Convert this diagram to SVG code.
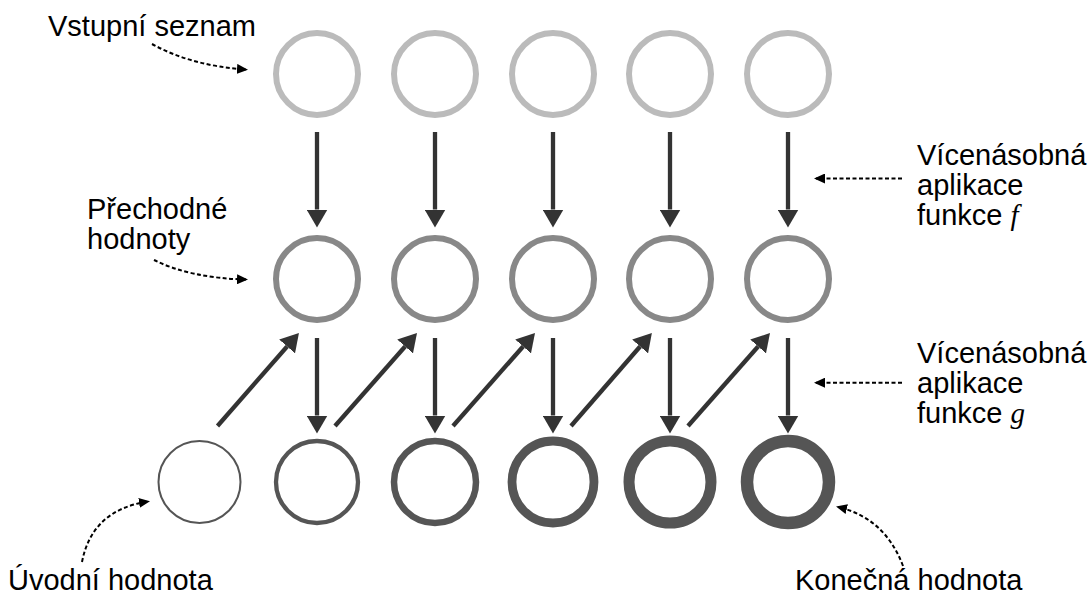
<svg xmlns="http://www.w3.org/2000/svg" width="1088" height="597" viewBox="0 0 1088 597">
  <style>
    .lbl { font-family: "Liberation Sans", Arial, Helvetica, sans-serif; font-size: 29px; fill: #000; }
    .var { font-family: "Liberation Serif", "Times New Roman", serif; font-style: italic; }
    .top { fill: none; stroke: #bbbbbb; stroke-width: 6; }
    .mid { fill: none; stroke: #888888; stroke-width: 6; }
    .bot { fill: none; stroke: #555555; }
    .flow { fill: none; stroke: #333333; stroke-width: 4.3; marker-end: url(#head); }
    .note { fill: none; stroke: #000; stroke-width: 2; stroke-dasharray: 4 2.5; marker-end: url(#small); }
  </style>
  <defs>
    <marker id="head" markerUnits="userSpaceOnUse" markerWidth="19" markerHeight="21" refX="0" refY="10.5" orient="auto">
      <path d="M0,0 L18,10.5 L0,21 z" fill="#333333"/>
    </marker>
    <marker id="small" markerUnits="userSpaceOnUse" markerWidth="11" markerHeight="10" refX="9" refY="5" orient="auto">
      <path d="M0,0 L11,5 L0,10 z" fill="#000"/>
    </marker>
  </defs>

  <!-- input list -->
  <g id="input">
    <circle class="top" cx="317" cy="74" r="41"/>
    <circle class="top" cx="435" cy="74" r="41"/>
    <circle class="top" cx="553" cy="74" r="41"/>
    <circle class="top" cx="670" cy="74" r="41"/>
    <circle class="top" cx="788" cy="74" r="41"/>
  </g>

  <!-- intermediate values -->
  <g id="intermediate">
    <circle class="mid" cx="317" cy="279" r="41"/>
    <circle class="mid" cx="435" cy="279" r="41"/>
    <circle class="mid" cx="553" cy="279" r="41"/>
    <circle class="mid" cx="670" cy="279" r="41"/>
    <circle class="mid" cx="788" cy="279" r="41"/>
  </g>

  <!-- accumulator, growing stroke -->
  <g id="accumulator">
    <circle class="bot" cx="199.5" cy="482" r="41" stroke-width="2"/>
    <circle class="bot" cx="317" cy="482" r="41" stroke-width="4.3"/>
    <circle class="bot" cx="435" cy="482" r="41" stroke-width="6.5"/>
    <circle class="bot" cx="553" cy="482" r="41" stroke-width="8.8"/>
    <circle class="bot" cx="670" cy="482" r="41" stroke-width="11"/>
    <circle class="bot" cx="788" cy="482" r="41" stroke-width="12.5"/>
  </g>

  <g id="connectors">
    <!-- f: input to intermediate -->
    <line class="flow" x1="317" y1="132" x2="317" y2="209.5"/>
    <line class="flow" x1="435" y1="132" x2="435" y2="209.5"/>
    <line class="flow" x1="553" y1="132" x2="553" y2="209.5"/>
    <line class="flow" x1="670" y1="132" x2="670" y2="209.5"/>
    <line class="flow" x1="788" y1="132" x2="788" y2="209.5"/>
    <!-- g: intermediate down to accumulator -->
    <line class="flow" x1="317" y1="338" x2="317" y2="415.5"/>
    <line class="flow" x1="435" y1="338" x2="435" y2="415.5"/>
    <line class="flow" x1="553" y1="338" x2="553" y2="415.5"/>
    <line class="flow" x1="670" y1="338" x2="670" y2="415.5"/>
    <line class="flow" x1="788" y1="338" x2="788" y2="415.5"/>
    <!-- accumulator up to next intermediate -->
    <line class="flow" x1="217.5" y1="426" x2="287.1" y2="346.5"/>
    <line class="flow" x1="335" y1="426" x2="405.1" y2="346.5"/>
    <line class="flow" x1="453" y1="426" x2="523.1" y2="346.5"/>
    <line class="flow" x1="571" y1="426" x2="640.1" y2="346.5"/>
    <line class="flow" x1="688" y1="426" x2="758.1" y2="346.5"/>

    <!-- annotation pointers -->
    <path class="note" d="M152,44 Q192,66 246,69.5"/>
    <path class="note" d="M154,260 Q190,278 246,279.5"/>
    <path class="note" d="M82,562 Q92,510 148,501.5"/>
    <path class="note" d="M903,566 Q885,518 838,507"/>
    <line class="note" x1="902" y1="178.5" x2="816" y2="178.5"/>
    <line class="note" x1="902" y1="382.7" x2="816" y2="382.7"/>
  </g>

  <g id="labels">
    <text class="lbl" x="48" y="36">Vstupní seznam</text>
    <text class="lbl" x="87" y="219">Přechodné</text>
    <text class="lbl" x="87" y="248.5">hodnoty</text>
    <text class="lbl" x="917" y="165">Vícenásobná</text>
    <text class="lbl" x="917" y="195">aplikace</text>
    <text class="lbl" x="917" y="225">funkce <tspan class="var">f</tspan></text>
    <text class="lbl" x="917" y="363">Vícenásobná</text>
    <text class="lbl" x="917" y="393">aplikace</text>
    <text class="lbl" x="917" y="423">funkce <tspan class="var">g</tspan></text>
    <text class="lbl" x="8" y="590">Úvodní hodnota</text>
    <text class="lbl" x="795" y="590">Konečná hodnota</text>
  </g>
</svg>
